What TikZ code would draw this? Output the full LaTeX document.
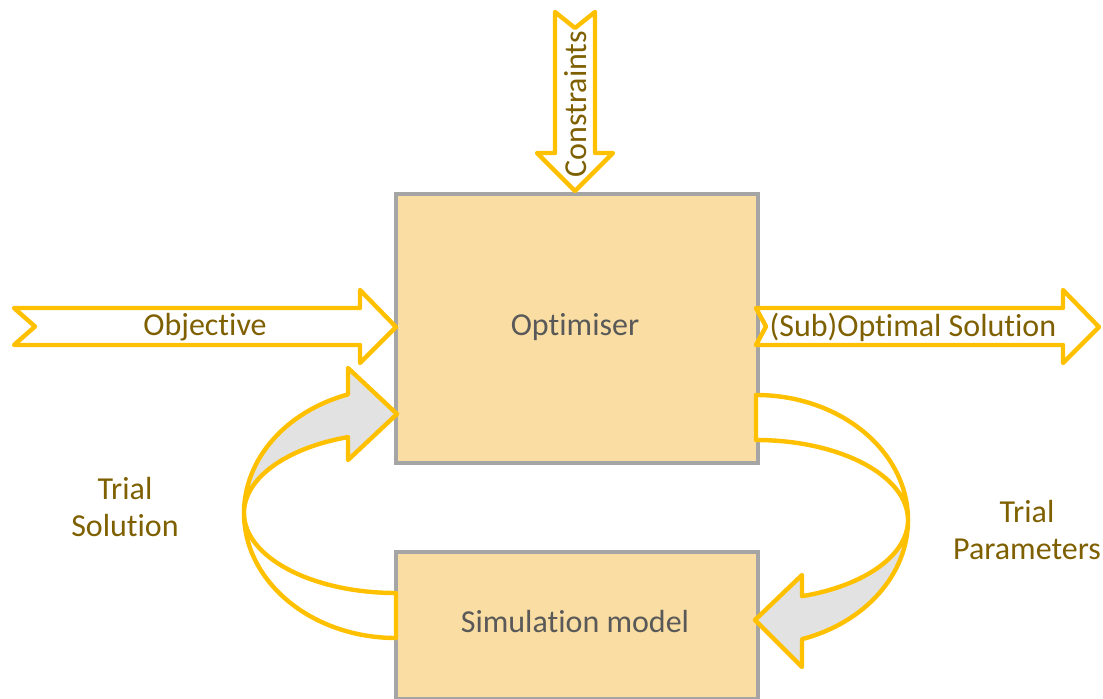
\documentclass[tikz,border=0pt]{standalone}
\usepackage{fontspec}
\setmainfont{Carlito}[Ligatures=NoCommon]
\definecolor{arrowgold}{RGB}{255,192,0}
\definecolor{boxfill}{RGB}{249,221,162}
\definecolor{boxline}{RGB}{165,165,165}
\definecolor{olive}{RGB}{127,96,0}
\definecolor{boxtext}{RGB}{89,89,89}
\definecolor{frontgray}{RGB}{226,226,226}
\begin{document}
\begin{tikzpicture}[x=0.75pt,y=0.75pt,
  blockbox/.style={draw=boxline, line width=3pt, fill=boxfill, anchor=north west, inner sep=0pt},
  blockarrow/.style={draw=arrowgold, line width=3.3pt, line join=round, fill=white},
  frontarrow/.style={draw=arrowgold, line width=3.3pt, line join=round, fill=frontgray},
  boxlabel/.style={text=boxtext, font=\fontsize{24}{28}\selectfont},
  arrowlabel/.style={text=olive, font=\fontsize{24}{28}\selectfont},
  sidelabel/.style={text=olive, font=\fontsize{24}{28}\selectfont, align=center}]
\useasboundingbox (0,0) rectangle (1103,-699);

% boxes
\node[blockbox, minimum width=362*0.75pt, minimum height=269*0.75pt] (opt) at (394,-192) {};
\node[boxlabel] (optlabel) at (575,-327) {Optimiser};
\node[blockbox, minimum width=362*0.75pt, minimum height=147*0.75pt] (sim) at (394,-550) {};
\node[boxlabel] (simlabel) at (575,-622) {Simulation model};

% Objective arrow
\draw[blockarrow] (14,-308) -- (360,-308) -- (360,-290) -- (396,-327) -- (360,-363)
  -- (360,-345) -- (14,-345) -- (35,-326.5) -- cycle;
\node[arrowlabel] (objlabel) at (205,-327) {Objective};

% (Sub)Optimal Solution arrow
\draw[blockarrow] (756,-308) -- (1063,-308) -- (1063,-290) -- (1099,-327) -- (1063,-363)
  -- (1063,-345) -- (756,-345) -- (766,-326.5) -- cycle;
\node[arrowlabel] (sollabel) at (913,-327) {(Sub)Optimal Solution};

% Constraints arrow
\draw[blockarrow] (555,-12) -- (575,-28) -- (595,-12) -- (595,-153) -- (613,-153)
  -- (575,-191) -- (537,-153) -- (555,-153) -- cycle;
\node[arrowlabel, rotate=90] (conlabel) at (576,-104) {Constraints};

% Trial Solution curved arrow (left)
\draw[blockarrow] (396,-638) arc[start angle=270, end angle=180, x radius=152, y radius=125]
  arc[start angle=180, end angle=270, x radius=152, y radius=80] -- cycle;
\draw[frontarrow] (244,-513) arc[start angle=180, end angle=108.4, x radius=152, y radius=125]
  -- (348,-368) -- (397,-414) -- (348,-460) -- (348,-437.1)
  arc[start angle=108.4, end angle=180, x radius=152, y radius=80] -- cycle;
\node[sidelabel] (tslabel) at (125,-507) {Trial\\Solution};

% Trial Parameters curved arrow (right)
\draw[blockarrow] (756,-395) arc[start angle=90, end angle=0, x radius=152, y radius=125]
  arc[start angle=0, end angle=90, x radius=152, y radius=80] -- cycle;
\draw[frontarrow] (908,-520) arc[start angle=0, end angle=-72.4, x radius=152, y radius=125]
  -- (802,-667) -- (755,-620) -- (802,-575) -- (802,-596.2)
  arc[start angle=-72.4, end angle=0, x radius=152, y radius=80] -- cycle;
\node[sidelabel] (tplabel) at (1027,-530) {Trial\\Parameters};
\end{tikzpicture}
\end{document}
